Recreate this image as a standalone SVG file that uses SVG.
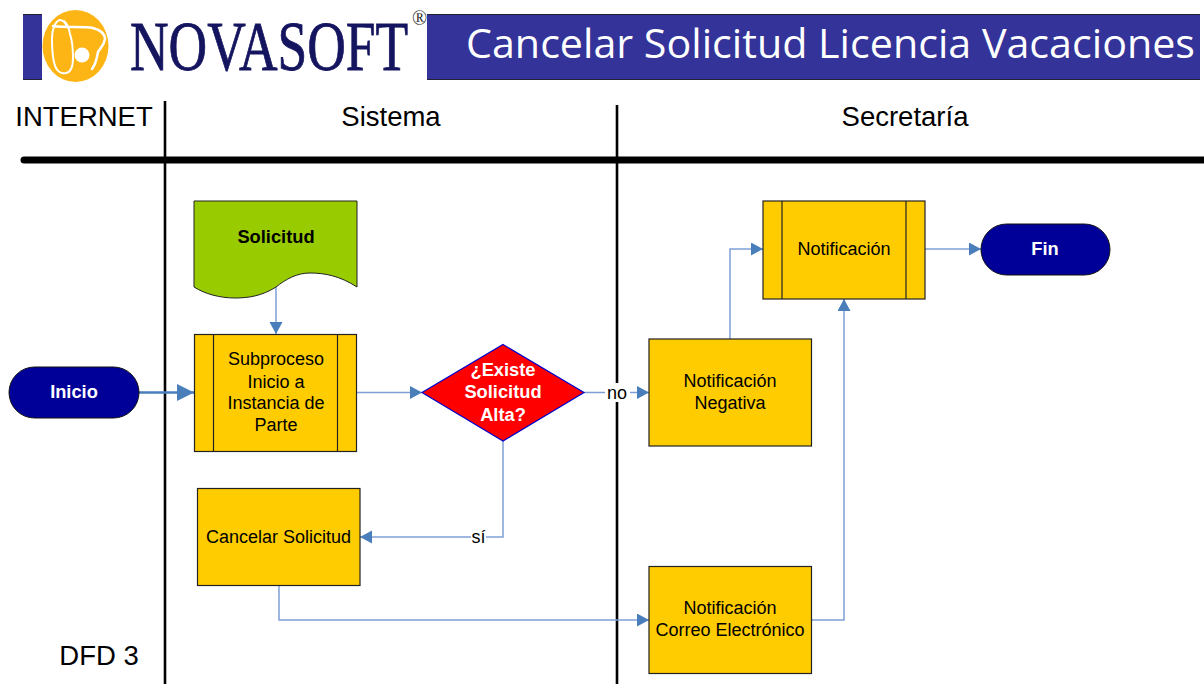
<svg xmlns="http://www.w3.org/2000/svg" width="1204" height="684" viewBox="0 0 1204 684">
<style>
text{font-family:"Liberation Sans",Arial,sans-serif;fill:#000}
.h{font-size:27.5px;text-anchor:middle}
.n{font-size:18px;text-anchor:middle}
.b{font-size:18.3px;font-weight:700;text-anchor:middle}
.box{fill:#fc0;stroke:#222;stroke-width:1.2}
.in{stroke:#222;stroke-width:1.2;fill:none}
.term{fill:#009;stroke:#111;stroke-width:1}
.c{fill:none;stroke:#7f9fd6;stroke-width:1.5}
.sw{fill:none;stroke:#fff;stroke-linecap:round}
.lane{stroke:#000;stroke-width:2.6}
</style>
<defs>
<marker id="a" markerUnits="userSpaceOnUse" markerWidth="14" markerHeight="14" refX="12" refY="6.5" orient="auto"><path d="M0 0L12 6.5L0 13Z" fill="#4a7ebb"/></marker>
<marker id="a2" markerUnits="userSpaceOnUse" markerWidth="18" markerHeight="18" refX="17" refY="8.5" orient="auto"><path d="M0 0L17 8.5L0 17Z" fill="#4a7ebb"/></marker>
</defs>
<g id="header">
<rect x="23" y="14" width="19" height="66" fill="#333399"/>
<rect x="427" y="14" width="773" height="66" fill="#333399"/>
<path d="M23 14.500H42M23 79.500H42M427 14.500H1200M427 79.500H1200" stroke="#223" stroke-width="1" fill="none"/>
<ellipse cx="75.500" cy="46" rx="33" ry="36" fill="#fdb515"/>
<path class="sw" stroke-width="2" d="M67 27C65 22 62 20 60 20C55 21 52 30 52 38C52 50 53 62 56 68C58 72 62 74 66 73C71 72 73 66 73 58C73 48 72 40 70 34C69 28 67 23 64 21"/>
<path class="sw" stroke-width="2.500" d="M53 26C66 28 84 26 93 28C100 30 105 34 105 39C104 46 100 48 98 52C97 58 96 64 92 69"/>
<circle cx="82" cy="55" r="7.500" fill="#fff"/>
<text transform="translate(130 70) scale(1.028 1.36)" font-size="52" stroke="#14145f" stroke-width=".6" style="font-family:'Liberation Serif',serif;fill:#14145f">NOVASOFT</text>
<text x="412" y="25" font-size="20" style="font-family:'Liberation Serif',serif;fill:#333">®</text>
<text x="466" y="58" font-size="40" textLength="729" lengthAdjust="spacingAndGlyphs" style="font-family:'Open Sans',sans-serif;fill:#fff">Cancelar Solicitud Licencia Vacaciones</text>
</g>
<g id="lanes">
<line class="lane" x1="165" y1="101" x2="165" y2="684"/>
<line class="lane" x1="617" y1="105" x2="617" y2="684"/>
<line x1="24" y1="160" x2="1204" y2="160" stroke="#000" stroke-width="7" stroke-linecap="round"/>
<text class="h" x="84" y="126">INTERNET</text>
<text class="h" x="391" y="126">Sistema</text>
<text class="h" x="905" y="126">Secretaría</text>
<text class="h" x="99" y="665">DFD 3</text>
</g>
<g id="connectors">
<line x1="139" y1="392.500" x2="194" y2="392.500" fill="none" stroke="#4a7ebb" stroke-width="2.500" marker-end="url(#a2)"/>
<path class="c" d="M276 287V334" marker-end="url(#a)"/>
<path class="c" d="M357 392.500H422" marker-end="url(#a)"/>
<path class="c" d="M584 392.500H649" marker-end="url(#a)"/>
<path class="c" d="M503 441V537H360" marker-end="url(#a)"/>
<path class="c" d="M279 586V620H649" marker-end="url(#a)"/>
<path class="c" d="M730 339V249H763" marker-end="url(#a)"/>
<path class="c" d="M812 620H844V299" marker-end="url(#a)"/>
<path class="c" d="M925 249H981" marker-end="url(#a)"/>
<rect x="605" y="383" width="25" height="19" fill="#fff"/>
<text class="n" x="617" y="398.500">no</text>
<rect x="471" y="528" width="15" height="18" fill="#fff"/>
<text class="n" x="478.500" y="543">sí</text>
</g>
<g id="inicio">
<rect class="term" x="9" y="367" width="130" height="51" rx="25.500"/>
<text class="b" x="74" y="398" style="fill:#fff">Inicio</text>
</g>
<g id="solicitud">
<path d="M194 201H357V287C340 276 325 273 310 273C297 273 286 279 276 287C262 296 248 298 235 298C220 298 205 294 194 287Z" fill="#9c0" stroke="#222" stroke-width="1"/>
<text class="b" x="276" y="243">Solicitud</text>
</g>
<g id="subproceso">
<rect class="box" x="194.500" y="334.500" width="162" height="117"/>
<path class="in" d="M213.500 334.500V451.500M337.500 334.500V451.500"/>
<text class="n"><tspan x="276" y="364.500">Subproceso</tspan><tspan x="276" y="387.500">Inicio a</tspan><tspan x="276" y="408.500">Instancia de</tspan><tspan x="276" y="430.500">Parte</tspan></text>
</g>
<g id="existe">
<path d="M503 344.500L584 392.500L503 441L422 392.500Z" fill="#f00" stroke="#00c" stroke-width="1.200"/>
<text class="b" style="fill:#fff"><tspan x="503" y="376">¿Existe</tspan><tspan x="503" y="398">Solicitud</tspan><tspan x="503" y="421">Alta?</tspan></text>
</g>
<g id="cancelar">
<rect class="box" x="197.500" y="488.500" width="162.500" height="97"/>
<text class="n" x="278.500" y="542.500">Cancelar Solicitud</text>
</g>
<g id="negativa">
<rect class="box" x="649" y="339" width="162.500" height="107"/>
<text class="n"><tspan x="730" y="386.500">Notificación</tspan><tspan x="730" y="408.500">Negativa</tspan></text>
</g>
<g id="correo">
<rect class="box" x="649" y="566.500" width="162.500" height="107"/>
<text class="n"><tspan x="730" y="613.500">Notificación</tspan><tspan x="730" y="635.500">Correo Electrónico</tspan></text>
</g>
<g id="notificacion">
<rect class="box" x="763" y="201" width="162" height="98"/>
<path class="in" d="M782 201V299M906 201V299"/>
<text class="n" x="844" y="254.500">Notificación</text>
</g>
<g id="fin">
<rect class="term" x="981" y="224" width="129" height="51" rx="25.500"/>
<text class="b" x="1045" y="255" style="fill:#fff">Fin</text>
</g>
</svg>
